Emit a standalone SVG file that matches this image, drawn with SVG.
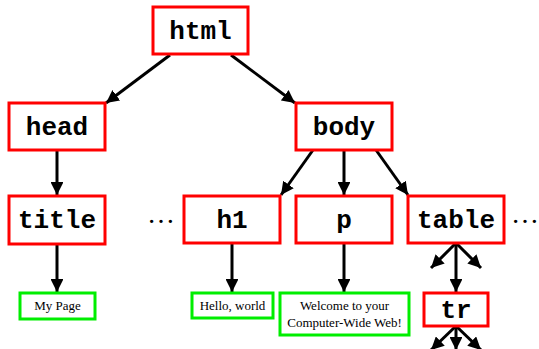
<svg xmlns="http://www.w3.org/2000/svg" width="539" height="349" viewBox="0 0 539 349">
  <style>
    .el { fill: #fff; stroke: #ff0000; stroke-width: 3; }
    .tx { fill: #fff; stroke: #00ee00; stroke-width: 3; }
    .tag { font-family: "Liberation Mono", "Courier New", monospace; font-weight: bold; font-size: 26px; text-anchor: middle; dominant-baseline: central; fill: #000; }
    .txt { font-family: "Liberation Serif", "Times New Roman", serif; font-size: 13px; text-anchor: middle; fill: #000; }
    .dots { font-family: "Liberation Serif", "Times New Roman", serif; font-size: 28px; text-anchor: middle; fill: #000; }
    .edge { stroke: #000; stroke-width: 3; fill: none; marker-end: url(#arrow); }
  </style>
  <defs>
    <marker id="arrow" viewBox="0 0 10 10" refX="10" refY="5" markerWidth="4.3" markerHeight="4.3" markerUnits="strokeWidth" orient="auto">
      <path d="M0,0 L10,5 L0,10 Z" fill="#000"/>
    </marker>
  </defs>

  <g id="connectors">
    <line class="edge" x1="170" y1="55" x2="106" y2="103"/>
    <line class="edge" x1="231" y1="55" x2="295" y2="103"/>
    <line class="edge" x1="57" y1="150" x2="57" y2="195"/>
    <line class="edge" x1="313" y1="150" x2="281" y2="195"/>
    <line class="edge" x1="344" y1="150" x2="344" y2="195"/>
    <line class="edge" x1="376" y1="150" x2="408" y2="195"/>
    <line class="edge" x1="57" y1="244" x2="57" y2="292"/>
    <line class="edge" x1="232" y1="243" x2="232" y2="292"/>
    <line class="edge" x1="344" y1="243" x2="344" y2="292"/>
    <line class="edge" x1="456" y1="243" x2="456" y2="292"/>
    <line class="edge" x1="456" y1="243" x2="431" y2="268"/>
    <line class="edge" x1="456" y1="243" x2="481" y2="268"/>
    <line class="edge" x1="456" y1="326" x2="431" y2="350"/>
    <line class="edge" x1="456" y1="326" x2="456" y2="350"/>
    <line class="edge" x1="456" y1="326" x2="481" y2="350"/>
  </g>

  <g id="html">
    <rect class="el" x="153" y="7" width="95" height="47"/>
    <text class="tag" x="200.5" y="32">html</text>
  </g>
  <g id="head">
    <rect class="el" x="9" y="103" width="96" height="47"/>
    <text class="tag" x="57" y="128">head</text>
  </g>
  <g id="body">
    <rect class="el" x="296" y="103" width="96" height="47"/>
    <text class="tag" x="344" y="128">body</text>
  </g>
  <g id="title">
    <rect class="el" x="9" y="196" width="96" height="48"/>
    <text class="tag" x="57" y="221">title</text>
  </g>
  <g id="h1">
    <rect class="el" x="184" y="196" width="96" height="47"/>
    <text class="tag" x="232" y="221">h1</text>
  </g>
  <g id="p">
    <rect class="el" x="296" y="196" width="96" height="47"/>
    <text class="tag" x="344" y="221">p</text>
  </g>
  <g id="table">
    <rect class="el" x="408" y="196" width="96" height="47"/>
    <text class="tag" x="456" y="221">table</text>
  </g>
  <g id="tr">
    <rect class="el" x="424" y="293" width="64" height="33"/>
    <text class="tag" x="456" y="311">tr</text>
  </g>
  <g id="text-my-page">
    <rect class="tx" x="20" y="293" width="75" height="26"/>
    <text class="txt" x="57.5" y="310">My Page</text>
  </g>
  <g id="text-hello">
    <rect class="tx" x="192" y="293" width="81" height="25"/>
    <text class="txt" x="232.5" y="310">Hello, world</text>
  </g>
  <g id="text-welcome">
    <rect class="tx" x="280" y="293" width="129" height="42"/>
    <text class="txt" x="344.5" y="310">Welcome to your</text>
    <text class="txt" x="344.5" y="327">Computer-Wide Web!</text>
  </g>

  <g id="ellipses">
    <text class="dots" x="161" y="223">…</text>
    <text class="dots" x="525" y="223">…</text>
  </g>
</svg>
